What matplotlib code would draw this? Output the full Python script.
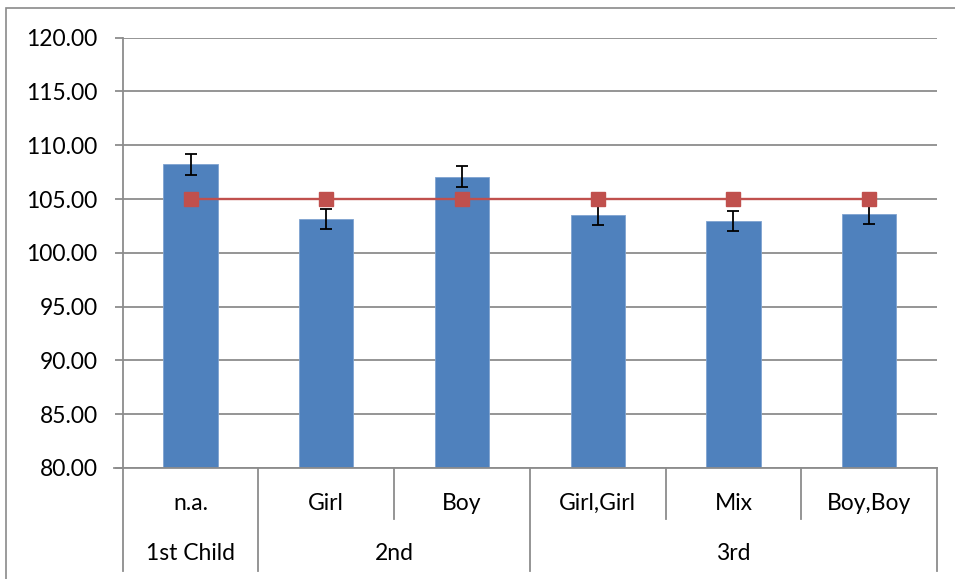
import matplotlib
matplotlib.use("Agg")
import matplotlib.pyplot as plt
from matplotlib.patches import Rectangle

plt.rcParams['font.family'] = ['Lato', 'DejaVu Sans']

# data
sub_labels = ["n.a.", "Girl", "Boy", "Girl,Girl", "Mix", "Boy,Boy"]
group_labels = ["1st Child", "2nd", "3rd"]
group_sizes = [1, 2, 3]
means = [108.22, 103.14, 107.07, 103.55, 102.98, 103.58]
errors = [0.95, 0.95, 0.96, 0.93, 0.95, 0.92]
reference = [105.0, 105.0, 105.0, 105.0, 105.0, 105.0]
yticks = [80, 85, 90, 95, 100, 105, 110, 115, 120]

W, H = 955, 579
fig = plt.figure(figsize=(W / 100, H / 100), dpi=100)
left, right, top, bottom = 122.7, 937.0, 37.7, 468.0
ax = fig.add_axes([left / W, (H - bottom) / H, (right - left) / W, (bottom - top) / H])

grid_col = '#8c8c8c'
x = list(range(len(sub_labels)))
ax.bar(x, means, width=0.4, bottom=0, color='#4F81BD', edgecolor='#7fa3d0',
       linewidth=0.6, zorder=2)
ax.errorbar(x, means, yerr=errors, fmt='none', ecolor='black', elinewidth=1.3,
            capsize=4.5, capthick=1.3, zorder=3)
ax.plot(x, reference, color='#C0504D', linewidth=1.7, marker='s', markersize=10.5,
        markerfacecolor='#C0504D', markeredgecolor='#C0504D', zorder=4)

ax.set_xlim(-0.5, len(sub_labels) - 0.5)
ax.set_ylim(80, 120)
ax.set_yticks(yticks)
ax.set_yticklabels([f"{v:.2f}" for v in yticks], fontsize=16.5)
ax.yaxis.grid(True, color=grid_col, linewidth=1.3, zorder=0)
ax.set_axisbelow(True)
ax.tick_params(axis='y', length=6, width=1.3, color=grid_col, pad=12)
ax.set_xticks([])
for s in ['top', 'right']:
    ax.spines[s].set_visible(False)
ax.spines['left'].set_color(grid_col)
ax.spines['left'].set_linewidth(1.3)
ax.spines['bottom'].set_color(grid_col)
ax.spines['bottom'].set_linewidth(1.3)

# extend x-axis line slightly left like a tick
trans = ax.get_xaxis_transform()
px = 1.0 / (bottom - top)
ax.plot([-0.5 - 8.7 / 136, -0.5], [0, 0], color=grid_col, lw=1.3,
        transform=trans, clip_on=False)

# two-level category axis
row1_y = -(503 - bottom) * px
row2_y = -(553 - bottom) * px
sub_end = -(519 - bottom) * px
grp_end = -(570.7 - bottom) * px

for i, lab in enumerate(sub_labels):
    ax.text(i, row1_y, lab, transform=trans, ha='center', va='center', fontsize=16.5)

start = 0
bounds = [-0.5]
for lab, n in zip(group_labels, group_sizes):
    centre = start + (n - 1) / 2
    ax.text(centre, row2_y, lab, transform=trans, ha='center', va='center', fontsize=16.5)
    start += n
    bounds.append(start - 0.5)

for b in bounds:
    ax.plot([b, b], [0, grp_end], color=grid_col, lw=1.3, transform=trans, clip_on=False)
for i in range(len(sub_labels) - 1):
    b = i + 0.5
    if b not in bounds:
        ax.plot([b, b], [0, sub_end], color=grid_col, lw=1.3, transform=trans, clip_on=False)

# outer chart frame
fig.patches.append(Rectangle((6 / W, -0.1), 1.2, (H - 8) / H + 0.1,
                             transform=fig.transFigure, fill=False,
                             edgecolor='#8a8a8a', linewidth=1.2))

fig.savefig("out.png", dpi=100)
